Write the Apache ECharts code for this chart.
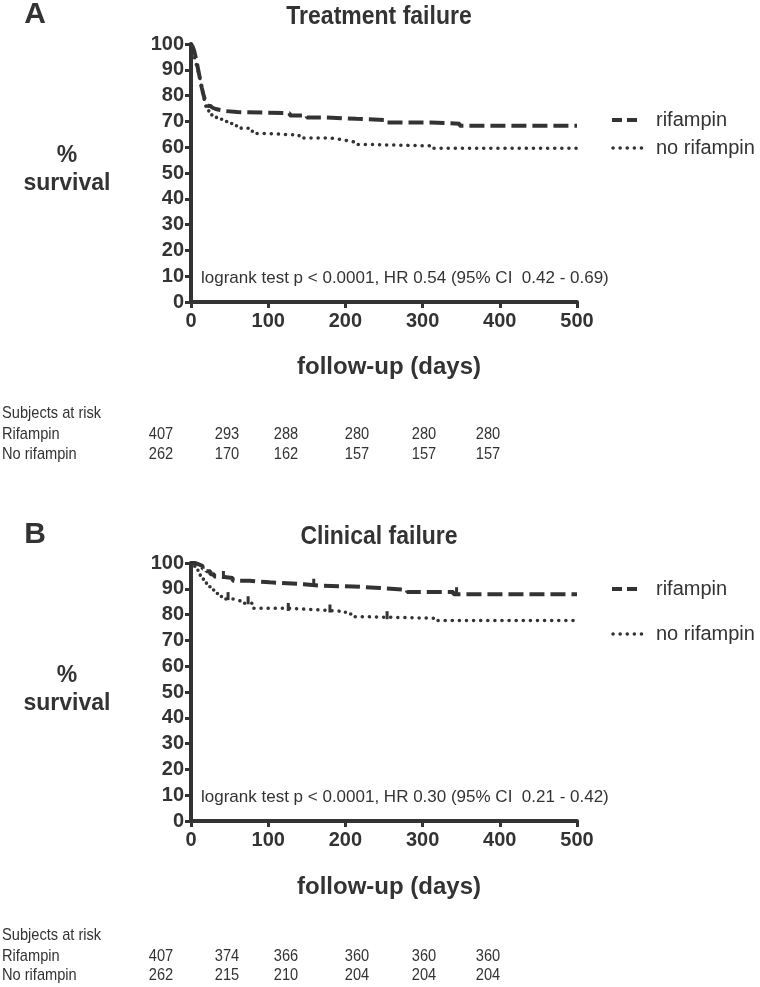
<!DOCTYPE html>
<html><head><meta charset="utf-8">
<script src="https://cdn.jsdelivr.net/npm/echarts@6/dist/echarts.min.js"></script>
<style>html,body{margin:0;padding:0;background:#fff}#c{width:760px;height:987px}</style>
</head><body><div id="c"></div>
<script>
// Panel A: Treatment failure (day, % survival)
const aRifDays = [0, 2, 4, 6, 8, 10, 12, 14, 16, 18, 20, 22, 25, 28, 32, 38, 45, 60, 128, 150, 176, 214, 254, 310, 348, 500];
const aRifVals = [100, 99, 97.5, 95, 92, 89, 86, 83, 80.5, 78.5, 77, 76, 75.3, 74.8, 74.4, 74, 73.6, 73.2, 72.3, 71.5, 71.0, 70.5, 69.6, 69.1, 68.3, 68.3];
const aNoDays = [0, 2, 4, 6, 8, 10, 12, 14, 16, 18, 20, 23, 27, 33, 40, 48, 56, 65, 75, 85, 100, 140, 180, 195, 205, 215, 236, 313, 500];
const aNoVals = [100, 98, 95.5, 93, 91, 88.5, 86, 83, 80, 77.5, 75, 73, 71.8, 70.8, 70, 69.2, 68.3, 67.3, 66.2, 65.3, 64.7, 63.6, 63, 62.4, 61.8, 61.0, 60.5, 59.6, 59.6];
// Panel B: Clinical failure
const bRifDays = [0, 5, 10, 15, 20, 25, 30, 37, 54, 76, 102, 146, 167, 210, 245, 280, 340, 500];
const bRifVals = [100, 99.5, 98.8, 97.8, 96.8, 95.6, 94.8, 94.2, 93.1, 92.5, 91.8, 91.2, 90.9, 90.3, 89.6, 88.8, 87.9, 87.9];
const bNoDays = [0, 3, 6, 9, 12, 16, 20, 25, 31, 37, 45, 55, 64, 81, 123, 167, 200, 210, 219, 314, 500];
const bNoVals = [100, 98.7, 97.3, 95.8, 94.3, 92.5, 90.8, 89.5, 88.2, 87, 86, 85.3, 84.4, 82.5, 81.8, 81.2, 80.2, 79.2, 78.6, 77.7, 77.7];
// Censor marks (panel B)
const bRifCensDays = [42, 159, 344];
const bRifCensVals = [94.2, 91.2, 87.9];
const bNoCensDays = [48, 74, 126, 180, 254];
const bNoCensVals = [86, 84.4, 81.8, 81.2, 78.6];
// Axis ticks
const xTicks = [0, 100, 200, 300, 400, 500];
const yTicks = [0, 10, 20, 30, 40, 50, 60, 70, 80, 90, 100];
// Subjects at risk tables
const riskLabels = ['Subjects at risk', 'Rifampin', 'No rifampin'];
const aRiskRif = [407, 293, 288, 280, 280, 280];
const aRiskNo = [262, 170, 162, 157, 157, 157];
const bRiskRif = [407, 374, 366, 360, 360, 360];
const bRiskNo = [262, 215, 210, 204, 204, 204];
const titles = ['Treatment failure', 'Clinical failure'];
const panelLetters = ['A', 'B'];
const logrankTexts = ['logrank test p < 0.0001, HR 0.54 (95% CI  0.42 - 0.69)', 'logrank test p < 0.0001, HR 0.30 (95% CI  0.21 - 0.42)'];
const seriesNames = ['rifampin', 'no rifampin'];

const FONT = '"Liberation Sans", Arial, sans-serif';
const C = '#333333';
const zip = (d, v) => d.map((x, i) => [x, v[i]]);

const grids = [
  {left: 191, top: 44, width: 386, height: 258},
  {left: 191, top: 563, width: 386, height: 258}
];
function xAx(i) {
  return {gridIndex: i, type: 'value', min: xTicks[0], max: xTicks[xTicks.length - 1], interval: xTicks[1] - xTicks[0],
    axisLine: {show: true, onZero: false, lineStyle: {color: C, width: 4}},
    axisTick: {show: true, length: 6, lineStyle: {color: C, width: 3}},
    axisLabel: {color: C, fontFamily: FONT, fontWeight: 'bold', fontSize: 20, margin: 9},
    splitLine: {show: false}};
}
function yAx(i) {
  return {gridIndex: i, type: 'value', min: yTicks[0], max: yTicks[yTicks.length - 1], interval: yTicks[1] - yTicks[0],
    axisLine: {show: true, onZero: false, lineStyle: {color: C, width: 4}},
    axisTick: {show: true, length: 6, lineStyle: {color: C, width: 3}},
    axisLabel: {color: C, fontFamily: FONT, fontWeight: 'bold', fontSize: 20, margin: 7},
    splitLine: {show: false}};
}
const dashStyle = {color: C, width: 4, type: [15, 6]};
const dotStyle = {color: C, width: 3.5, type: [0.1, 7], cap: 'round'};
function line(name, data, i, style) {
  return {name, type: 'line', xAxisIndex: i, yAxisIndex: i, data, step: 'end',
    showSymbol: false, symbol: 'none', lineStyle: style, silent: true, animation: false, z: 3};
}
function cens(name, data, i) {
  return {name, type: 'scatter', xAxisIndex: i, yAxisIndex: i, data, symbol: 'rect', symbolSize: [3, 8],
    symbolOffset: [0, -3], itemStyle: {color: C, opacity: 1}, silent: true, animation: false, z: 4};
}
const series = [
  line(seriesNames[0], zip(aRifDays, aRifVals), 0, dashStyle),
  line(seriesNames[1], zip(aNoDays, aNoVals), 0, dotStyle),
  line(seriesNames[0], zip(bRifDays, bRifVals), 1, dashStyle),
  line(seriesNames[1], zip(bNoDays, bNoVals), 1, dotStyle),
  cens(seriesNames[0], zip(bRifCensDays, bRifCensVals), 1),
  cens(seriesNames[1], zip(bNoCensDays, bNoCensVals), 1)
];

const g = [];
function txt(x, y, text, size, bold, align, sx) {
  g.push({type: 'text', x, y, scaleX: sx || 1, style: {text, fill: C, font: (bold ? 'bold ' : '') + size + 'px ' + FONT,
    textAlign: align || 'left', textVerticalAlign: 'middle'}});
}
const panelTop = [0, 520];
const riskCols = [161, 227, 286, 357, 424, 488];
const riskRowsY = [[413, 434, 454], [935, 956, 975]];
const legendY = [[120, 148], [589, 634]];
const risk = [[aRiskRif, aRiskNo], [bRiskRif, bRiskNo]];
for (let p = 0; p < 2; p++) {
  const t = panelTop[p];
  txt(35, t + 15, panelLetters[p], 30, true, 'center');
  txt(379, t + 17, titles[p], 25, true, 'center', 0.92);
  txt(67, t + 156, '%', 23, true, 'center');
  txt(67, t + 184, 'survival', 23, true, 'center');
  txt(389, t + 367, 'follow-up (days)', 24, true, 'center');
  txt(201, grids[p].top + 234, logrankTexts[p], 17, false, 'left');
  // risk table
  riskLabels.forEach((l, r) => txt(2, riskRowsY[p][r], l, 17, false, 'left', 0.86));
  risk[p].forEach((row, r) => row.forEach((v, k) => txt(riskCols[k], riskRowsY[p][r + 1], String(v), 17, false, 'center', 0.86)));
  // legend
  const ly = legendY[p];
  g.push({type: 'line', shape: {x1: 612, y1: ly[0], x2: 642, y2: ly[0]}, style: {stroke: C, lineWidth: 4, lineDash: [10, 5]}});
  g.push({type: 'line', shape: {x1: 613, y1: ly[1], x2: 642, y2: ly[1]}, style: {stroke: C, lineWidth: 3.5, lineDash: [0.1, 7], lineCap: 'round'}});
  txt(656, ly[0], seriesNames[0], 20, false, 'left');
  txt(656, ly[1], seriesNames[1], 20, false, 'left');
}

const chart = echarts.init(document.getElementById('c'), null, {renderer: 'canvas'});
chart.setOption({
  animation: false,
  backgroundColor: '#fff',
  grid: grids,
  xAxis: [xAx(0), xAx(1)],
  yAxis: [yAx(0), yAx(1)],
  series,
  graphic: g
});
</script></body></html>
